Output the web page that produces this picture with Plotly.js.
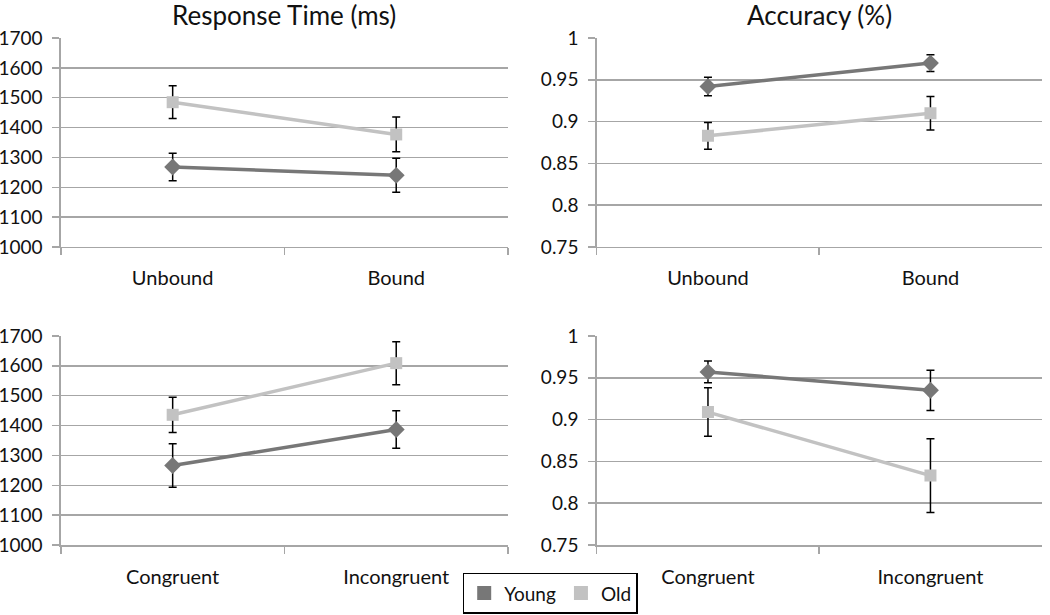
<!DOCTYPE html>
<html>
<head>
<meta charset="utf-8">
<script src="https://cdn.plot.ly/plotly-3.0.1.min.js"></script>
<style>html,body{margin:0;padding:0;background:#fff;}#chart{width:1050px;height:615px;}</style>
</head>
<body>
<div id="chart"></div>
<script>
const seriesNames = ["Young", "Old"];
const catsTop = ["Unbound", "Bound"];
const catsBottom = ["Congruent", "Incongruent"];
const panelTitles = ["Response Time (ms)", "Accuracy (%)"];

const rtTopYoung = [1268, 1240];
const rtTopYoungErr = [46, 57];
const rtTopOld = [1485, 1377];
const rtTopOldErr = [55, 58];

const accTopYoung = [0.942, 0.970];
const accTopYoungErr = [0.011, 0.010];
const accTopOld = [0.883, 0.910];
const accTopOldErr = [0.016, 0.020];

const rtBotYoung = [1266, 1387];
const rtBotYoungErr = [73, 63];
const rtBotOld = [1436, 1609];
const rtBotOldErr = [59, 72];

const accBotYoung = [0.957, 0.935];
const accBotYoungErr = [0.013, 0.024];
const accBotOld = [0.909, 0.833];
const accBotOldErr = [0.029, 0.044];

const rtTicks = [1000, 1100, 1200, 1300, 1400, 1500, 1600, 1700];
const accTicks = [0.75, 0.8, 0.85, 0.9, 0.95, 1];
const accTickText = ["0.75", "0.8", "0.85", "0.9", "0.95", "1"];

const youngColor = "#777777";
const oldColor = "#c2c2c2";
const FONT = "Lato, 'Open Sans', sans-serif";

function tr(x, y, err, xa, ya, who) {
  const young = who === 0;
  return {
    x: x, y: y, xaxis: xa, yaxis: ya, type: "scatter", mode: "lines+markers",
    name: seriesNames[who], showlegend: false,
    line: {color: young ? youngColor : oldColor, width: 3.5},
    marker: {color: young ? youngColor : oldColor, symbol: young ? "diamond" : "square", size: young ? 13 : 12},
    error_y: {type: "data", array: err, visible: true, color: "#000", thickness: 1.5, width: 4},
    hoverinfo: "x+y"
  };
}

const data = [
  tr(catsTop, rtTopOld, rtTopOldErr, "x", "y", 1),
  tr(catsTop, rtTopYoung, rtTopYoungErr, "x", "y", 0),
  tr(catsTop, accTopOld, accTopOldErr, "x2", "y2", 1),
  tr(catsTop, accTopYoung, accTopYoungErr, "x2", "y2", 0),
  tr(catsBottom, rtBotOld, rtBotOldErr, "x3", "y3", 1),
  tr(catsBottom, rtBotYoung, rtBotYoungErr, "x3", "y3", 0),
  tr(catsBottom, accBotOld, accBotOldErr, "x4", "y4", 1),
  tr(catsBottom, accBotYoung, accBotYoungErr, "x4", "y4", 0),
  {x: [null], y: [null], type: "scatter", mode: "markers", name: seriesNames[0], showlegend: true,
   marker: {color: youngColor, symbol: "square", size: 14}},
  {x: [null], y: [null], type: "scatter", mode: "markers", name: seriesNames[1], showlegend: true,
   marker: {color: oldColor, symbol: "square", size: 14}}
];

function xax(domain, anchor) {
  return {
    domain: domain, anchor: anchor, type: "category", range: [-0.5, 1.5],
    showline: true, linecolor: "#a6a6a6", linewidth: 1.5,
    ticks: "outside", tickson: "boundaries", ticklen: 7, tickcolor: "#a6a6a6", tickwidth: 1.5,
    showgrid: false, zeroline: false,
    tickfont: {family: FONT, size: 20, color: "#111"}, ticklabelstandoff: 13, fixedrange: true
  };
}
function yax(domain, anchor, range, ticks, text) {
  const o = {
    domain: domain, anchor: anchor, range: range, tickmode: "array", tickvals: ticks,
    showline: true, linecolor: "#a6a6a6", linewidth: 1.5,
    ticks: "outside", ticklen: 7, tickcolor: "#a6a6a6", tickwidth: 1.5,
    showgrid: true, gridcolor: "#a6a6a6", gridwidth: 1.5, zeroline: false,
    tickfont: {family: FONT, size: 19, color: "#111"}, ticklabelstandoff: 6, fixedrange: true
  };
  if (text) o.ticktext = text;
  return o;
}

const xL = [0.058, 0.4838], xR = [0.5683, 0.9921];
const yT = [0.5984, 0.9382], yB = [0.1138, 0.4537];

const layout = {
  width: 1050, height: 615,
  margin: {l: 0, r: 0, t: 0, b: 0, autoexpand: false},
  paper_bgcolor: "#fff", plot_bgcolor: "#fff",
  font: {family: FONT, color: "#111"},
  xaxis: xax(xL, "y"), yaxis: yax(yT, "x", [1000, 1700], rtTicks),
  xaxis2: xax(xR, "y2"), yaxis2: yax(yT, "x2", [0.75, 1], accTicks, accTickText),
  xaxis3: xax(xL, "y3"), yaxis3: yax(yB, "x3", [1000, 1700], rtTicks),
  xaxis4: xax(xR, "y4"), yaxis4: yax(yB, "x4", [0.75, 1], accTicks, accTickText),
  annotations: [
    {text: panelTitles[0], xref: "paper", yref: "paper", x: (xL[0] + xL[1]) / 2, y: 1 - 15 / 615,
     xanchor: "center", yanchor: "middle", showarrow: false, font: {family: FONT, size: 26, color: "#111"}},
    {text: panelTitles[1], xref: "paper", yref: "paper", x: (xR[0] + xR[1]) / 2, y: 1 - 15 / 615,
     xanchor: "center", yanchor: "middle", showarrow: false, font: {family: FONT, size: 26, color: "#111"}}
  ],
  legend: {orientation: "h", x: 0.524, xanchor: "center", y: 0.002, yanchor: "bottom",
    bordercolor: "#000", borderwidth: 1.5, bgcolor: "#fff",
    font: {family: FONT, size: 19, color: "#111"}, itemwidth: 30, tracegroupgap: 0},
  showlegend: true
};

Plotly.newPlot("chart", data, layout, {displayModeBar: false, staticPlot: true});
</script>
</body>
</html>
